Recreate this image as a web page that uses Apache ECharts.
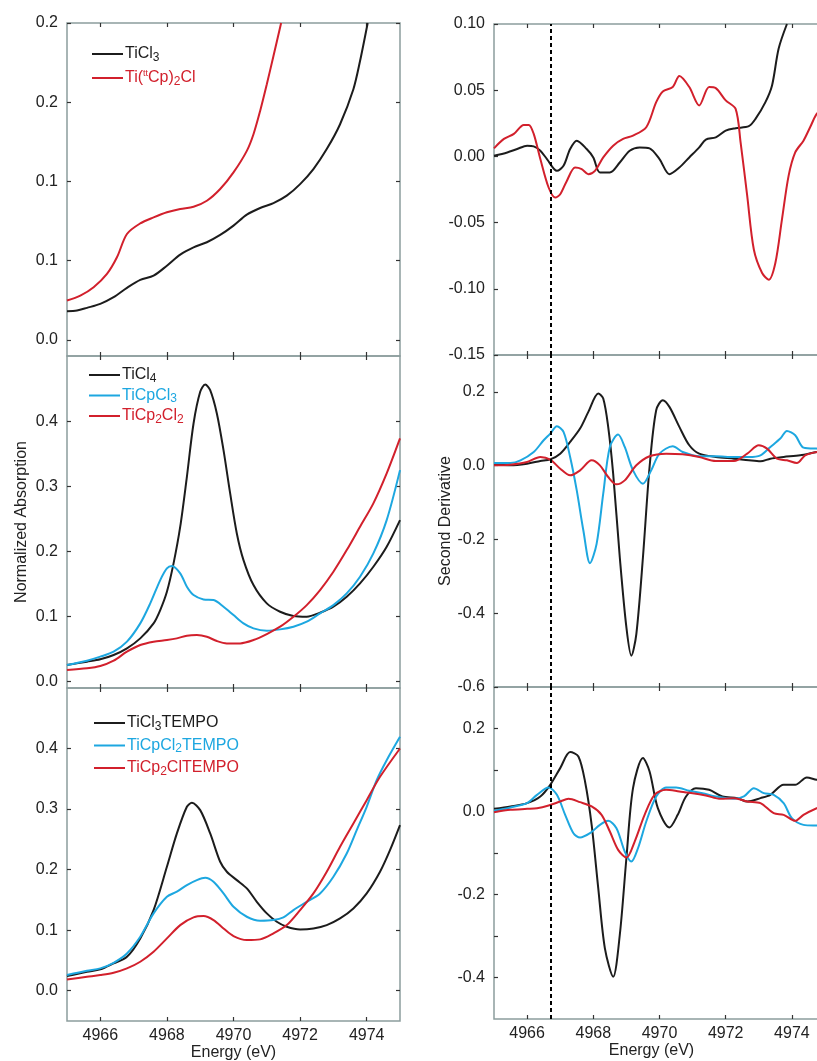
<!DOCTYPE html>
<html>
<head>
<meta charset="utf-8">
<script src="https://cdn.jsdelivr.net/npm/echarts@6/dist/echarts.min.js"></script>
<style>
  html, body { margin: 0; padding: 0; background: #fff; overflow: hidden; }
  #chart { width: 817px; height: 1061px; }
</style>
</head>
<body>
<div id="chart"></div>
<script>
// ---------------- DATA ----------------
const energyTicks = [4966, 4968, 4970, 4972, 4974];
const edgeLineEnergy = 4966.7;

// Panel 1 (left top) tick values and printed labels
const p1Ticks = [0, 0.05, 0.1, 0.15, 0.2];
const p1TickLabels = ['0.0', '0.1', '0.1', '0.2', '0.2'];
const p2Ticks = [0, 0.1, 0.2, 0.3, 0.4];
const p3Ticks = [0, 0.1, 0.2, 0.3, 0.4];
const r1Ticks = [-0.15, -0.1, -0.05, 0, 0.05, 0.1];
const r2Ticks = [-0.6, -0.4, -0.2, 0, 0.2];
const r3Ticks = [-0.4, -0.3, -0.2, -0.1, 0, 0.1, 0.2];
const r3LabelTicks = [-0.4, -0.2, 0, 0.2];

// Normalized absorption, panel 1
const TiCl3 = [[4965.0,0.0181],[4965.3,0.0185],[4965.6,0.0202],[4966.0,0.0227],[4966.4,0.0269],[4966.8,0.0328],[4967.2,0.0378],[4967.6,0.0405],[4968.0,0.0468],[4968.4,0.0538],[4968.8,0.0584],[4969.2,0.0616],[4969.6,0.0662],[4970.0,0.0721],[4970.4,0.079],[4970.8,0.0832],[4971.2,0.0863],[4971.6,0.091],[4972.0,0.0983],[4972.4,0.1078],[4972.8,0.1204],[4973.2,0.1361],[4973.6,0.1582],[4973.8,0.176],[4974.03,0.2]];
const TittCp2Cl = [[4965.0,0.0248],[4965.4,0.0279],[4965.8,0.0332],[4966.2,0.0416],[4966.5,0.0521],[4966.8,0.0668],[4967.2,0.0735],[4967.6,0.0773],[4968.0,0.0805],[4968.4,0.0826],[4968.8,0.084],[4969.2,0.0878],[4969.6,0.0952],[4970.0,0.1057],[4970.4,0.1193],[4970.6,0.1298],[4970.8,0.1445],[4971.0,0.1613],[4971.2,0.1792],[4971.43,0.2]];

// Panel 2
const TiCl4 = [[4965.0,0.0256],[4965.6,0.0307],[4966.0,0.0343],[4966.4,0.0409],[4966.8,0.0512],[4967.2,0.0665],[4967.6,0.0895],[4967.8,0.11],[4968.0,0.138],[4968.2,0.1816],[4968.4,0.2379],[4968.6,0.3146],[4968.8,0.3964],[4969.0,0.445],[4969.15,0.4563],[4969.3,0.4476],[4969.5,0.4118],[4969.7,0.3555],[4969.9,0.289],[4970.1,0.2276],[4970.3,0.1867],[4970.6,0.1483],[4971.0,0.1202],[4971.4,0.1074],[4971.8,0.1008],[4972.2,0.0997],[4972.6,0.1059],[4973.0,0.1151],[4973.4,0.1304],[4973.8,0.1509],[4974.2,0.1765],[4974.6,0.2072],[4975.0,0.2481]];
const TiCpCl3 = [[4965.0,0.0256],[4965.6,0.0322],[4966.0,0.0384],[4966.4,0.046],[4966.8,0.0614],[4967.2,0.0895],[4967.5,0.1202],[4967.8,0.156],[4968.0,0.1739],[4968.15,0.1775],[4968.4,0.1662],[4968.6,0.1458],[4968.8,0.133],[4969.1,0.1263],[4969.4,0.1253],[4969.7,0.1151],[4970.0,0.1023],[4970.3,0.0895],[4970.6,0.0818],[4971.0,0.0783],[4971.4,0.0803],[4971.8,0.0844],[4972.2,0.0921],[4972.6,0.1049],[4973.0,0.1176],[4973.4,0.1355],[4973.8,0.1611],[4974.2,0.1969],[4974.6,0.2481],[4975.0,0.3248]];
const TiCp2Cl2 = [[4965.0,0.0179],[4965.6,0.0205],[4966.0,0.024],[4966.4,0.0322],[4966.8,0.046],[4967.2,0.0563],[4967.6,0.0614],[4968.0,0.0639],[4968.3,0.0665],[4968.6,0.0706],[4968.9,0.0716],[4969.2,0.069],[4969.5,0.0624],[4969.8,0.0588],[4970.2,0.0588],[4970.6,0.0639],[4971.0,0.0731],[4971.4,0.0844],[4971.8,0.0997],[4972.2,0.1176],[4972.6,0.1407],[4973.0,0.1688],[4973.4,0.202],[4973.8,0.2379],[4974.2,0.2737],[4974.6,0.3197],[4975.0,0.3734]];

// Panel 3
const TiCl3TEMPO = [[4965.0,0.0242],[4965.6,0.0314],[4966.0,0.0352],[4966.4,0.0451],[4966.8,0.0561],[4967.2,0.0864],[4967.6,0.1332],[4968.0,0.2047],[4968.3,0.2598],[4968.6,0.3038],[4968.75,0.3104],[4969.0,0.2983],[4969.3,0.2598],[4969.6,0.213],[4969.8,0.1965],[4970.1,0.1827],[4970.4,0.169],[4970.7,0.1469],[4971.0,0.1277],[4971.3,0.1139],[4971.6,0.1057],[4972.0,0.1013],[4972.4,0.1029],[4972.8,0.1084],[4973.2,0.1194],[4973.6,0.1359],[4974.0,0.1607],[4974.4,0.1965],[4974.7,0.2322],[4975.0,0.2735]];
const TiCpCl2TEMPO = [[4965.0,0.0259],[4965.6,0.033],[4966.0,0.0369],[4966.4,0.0462],[4966.8,0.0616],[4967.2,0.0892],[4967.6,0.1277],[4968.0,0.1552],[4968.3,0.1635],[4968.6,0.1745],[4968.9,0.1827],[4969.15,0.1866],[4969.4,0.18],[4969.7,0.1607],[4970.0,0.1387],[4970.4,0.1222],[4970.8,0.1156],[4971.2,0.1167],[4971.5,0.1211],[4971.8,0.1332],[4972.2,0.1469],[4972.6,0.1607],[4973.0,0.1882],[4973.4,0.2267],[4973.7,0.2653],[4974.0,0.3038],[4974.3,0.3478],[4974.6,0.3808],[4975.0,0.4194]];
const TiCp2ClTEMPO = [[4965.0,0.0187],[4965.6,0.0231],[4966.0,0.0259],[4966.4,0.0297],[4966.8,0.0369],[4967.2,0.0479],[4967.6,0.0644],[4968.0,0.0864],[4968.4,0.1084],[4968.8,0.1211],[4969.1,0.1233],[4969.4,0.1167],[4969.7,0.1029],[4970.0,0.0903],[4970.4,0.0837],[4970.8,0.0848],[4971.2,0.0947],[4971.6,0.1084],[4972.0,0.1332],[4972.4,0.1607],[4972.8,0.1965],[4973.2,0.2378],[4973.6,0.2763],[4974.0,0.3148],[4974.4,0.3533],[4975.0,0.4001]];

// Second derivative, panel R1
const dTiCl3 = [[4965.0,0.0005],[4965.4,0.003],[4965.7,0.0056],[4966.0,0.0081],[4966.2,0.0076],[4966.4,0.0043],[4966.6,-0.002],[4966.9,-0.0109],[4967.1,-0.0071],[4967.3,0.0056],[4967.5,0.0119],[4967.8,0.0056],[4968.0,-0.0008],[4968.2,-0.0121],[4968.5,-0.0121],[4968.8,-0.0046],[4969.1,0.0043],[4969.4,0.0068],[4969.7,0.0061],[4970.0,-0.002],[4970.3,-0.0134],[4970.6,-0.0084],[4970.9,-0.0008],[4971.2,0.0068],[4971.4,0.0127],[4971.7,0.0144],[4972.0,0.0195],[4972.3,0.0213],[4972.7,0.0228],[4972.9,0.0283],[4973.2,0.041],[4973.4,0.0536],[4973.6,0.0815],[4973.85,0.1]];
const dTittCp2Cl = [[4965.0,0.0061],[4965.3,0.0132],[4965.6,0.017],[4965.9,0.0238],[4966.05,0.0238],[4966.2,0.017],[4966.4,-0.002],[4966.65,-0.0235],[4966.85,-0.0311],[4967.0,-0.0286],[4967.2,-0.0185],[4967.45,-0.0084],[4967.65,-0.0096],[4967.85,-0.0134],[4968.05,-0.0109],[4968.3,-0.0008],[4968.6,0.0081],[4968.9,0.0132],[4969.2,0.0157],[4969.6,0.022],[4969.9,0.041],[4970.1,0.0491],[4970.4,0.0524],[4970.6,0.0607],[4970.9,0.0524],[4971.2,0.0385],[4971.5,0.0524],[4971.7,0.0516],[4972.0,0.0423],[4972.3,0.0359],[4972.45,0.0106],[4972.65,-0.0299],[4972.85,-0.0703],[4973.1,-0.0881],[4973.3,-0.0931],[4973.5,-0.0805],[4973.7,-0.0476],[4973.9,-0.0147],[4974.1,0.003],[4974.35,0.0119],[4974.55,0.022],[4974.75,0.0321],[4975.0,0.038]];

// Panel R2
const dTiCl4 = [[4965.0,0.0036],[4965.5,0.0009],[4966.0,0.0054],[4966.4,0.0127],[4966.7,0.0172],[4967.0,0.0326],[4967.3,0.0643],[4967.6,0.1005],[4967.85,0.1458],[4968.15,0.1957],[4968.3,0.1821],[4968.45,0.1051],[4968.6,-0.0217],[4968.8,-0.2482],[4969.0,-0.4384],[4969.15,-0.5154],[4969.3,-0.4565],[4969.5,-0.2482],[4969.7,-0.0036],[4969.9,0.1504],[4970.1,0.1775],[4970.3,0.1594],[4970.6,0.1051],[4970.9,0.0553],[4971.2,0.0326],[4971.7,0.0236],[4972.25,0.019],[4972.7,0.0145],[4973.05,0.0118],[4973.35,0.019],[4973.75,0.0236],[4974.25,0.0281],[4974.75,0.0371],[4975.0,0.04]];
const dTiCpCl3 = [[4965.0,0.0072],[4965.5,0.0072],[4965.8,0.0145],[4966.2,0.0371],[4966.5,0.0688],[4966.7,0.087],[4966.9,0.1069],[4967.1,0.0915],[4967.3,0.0236],[4967.5,-0.067],[4967.7,-0.1757],[4967.9,-0.2645],[4968.1,-0.212],[4968.3,-0.0761],[4968.5,0.0507],[4968.75,0.0842],[4968.95,0.0507],[4969.2,-0.0127],[4969.5,-0.0489],[4969.75,-0.0127],[4970.0,0.0326],[4970.4,0.0525],[4970.7,0.0371],[4971.2,0.0254],[4971.7,0.0254],[4972.25,0.0236],[4972.7,0.0236],[4973.05,0.0281],[4973.35,0.0507],[4973.65,0.0734],[4973.85,0.0942],[4974.1,0.0824],[4974.35,0.0489],[4974.75,0.0462],[4975.0,0.046]];
const dTiCp2Cl2 = [[4965.0,0.0009],[4965.5,0.0027],[4966.0,0.01],[4966.4,0.0236],[4966.7,0.0163],[4967.0,-0.0082],[4967.3,-0.0263],[4967.6,-0.0127],[4967.95,0.0145],[4968.2,0.0009],[4968.45,-0.0308],[4968.7,-0.0507],[4968.95,-0.0399],[4969.3,0.0009],[4969.7,0.0254],[4970.2,0.0326],[4970.7,0.0308],[4971.2,0.0236],[4971.7,0.0127],[4972.25,0.0127],[4972.65,0.0326],[4973.0,0.0553],[4973.25,0.0462],[4973.55,0.019],[4973.85,0.0145],[4974.15,0.0072],[4974.4,0.0281],[4974.75,0.0371],[4975.0,0.04]];

// Panel R3
const dTiCl3TEMPO = [[4965.0,0.0064],[4965.5,0.0121],[4966.0,0.0201],[4966.4,0.0362],[4966.7,0.0643],[4967.0,0.1045],[4967.3,0.1431],[4967.55,0.1327],[4967.75,0.0724],[4967.95,-0.0322],[4968.15,-0.185],[4968.35,-0.3297],[4968.6,-0.3981],[4968.8,-0.2976],[4969.0,-0.1126],[4969.2,0.0563],[4969.5,0.1287],[4969.7,0.0965],[4969.95,0.008],[4970.3,-0.0386],[4970.55,-0.008],[4970.8,0.0362],[4971.1,0.0563],[4971.5,0.0523],[4971.9,0.0362],[4972.35,0.0322],[4972.65,0.0241],[4973.05,0.0322],[4973.35,0.0402],[4973.75,0.0643],[4974.1,0.0643],[4974.45,0.082],[4974.75,0.0764],[4975.0,0.075]];
const dTiCpCl2TEMPO = [[4965.0,0.0016],[4965.5,0.0097],[4966.0,0.0201],[4966.3,0.0402],[4966.65,0.0579],[4966.9,0.0402],[4967.15,-0.008],[4967.4,-0.0523],[4967.6,-0.0627],[4967.9,-0.0523],[4968.2,-0.0322],[4968.45,-0.0225],[4968.7,-0.0402],[4968.95,-0.0965],[4969.15,-0.1206],[4969.35,-0.0885],[4969.6,-0.0241],[4969.9,0.0362],[4970.2,0.0579],[4970.5,0.0579],[4970.9,0.0499],[4971.3,0.0442],[4971.7,0.0362],[4972.25,0.0306],[4972.55,0.0362],[4972.85,0.0563],[4973.15,0.0442],[4973.45,0.0402],[4973.75,0.0201],[4974.0,-0.0161],[4974.35,-0.0322],[4974.75,-0.0338],[4975.0,-0.034]];
const dTiCp2ClTEMPO = [[4965.0,-0.0016],[4965.5,0.004],[4966.0,0.0064],[4966.3,0.008],[4966.65,0.0145],[4967.0,0.0241],[4967.25,0.0306],[4967.6,0.0225],[4967.95,0.0121],[4968.25,-0.008],[4968.5,-0.0483],[4968.75,-0.0925],[4969.0,-0.111],[4969.25,-0.0724],[4969.55,-0.008],[4969.85,0.0402],[4970.2,0.0523],[4970.6,0.0483],[4971.0,0.0442],[4971.4,0.0386],[4971.85,0.0306],[4972.25,0.0322],[4972.65,0.0241],[4973.05,0.0201],[4973.45,-0.004],[4973.75,-0.008],[4974.1,-0.0225],[4974.35,-0.008],[4974.75,0.008],[4975.0,0.015]];

// Legend labels with sub/superscripts (rich text)
const legendRich = {
  'TiCl3': '{k|TiCl}{ks|3}',
  'Ti(ttCp)2Cl': '{r|Ti(}{rp|tt}{r|Cp)}{rs|2}{r|Cl}',
  'TiCl4': '{k|TiCl}{ks|4}',
  'TiCpCl3': '{c|TiCpCl}{cs|3}',
  'TiCp2Cl2': '{r|TiCp}{rs|2}{r|Cl}{rs|2}',
  'TiCl3TEMPO': '{k|TiCl}{ks|3}{k|TEMPO}',
  'TiCpCl2TEMPO': '{c|TiCpCl}{cs|2}{c|TEMPO}',
  'TiCp2ClTEMPO': '{r|TiCp}{rs|2}{r|ClTEMPO}'
};

// ---------------- STYLE ----------------
const BLACK = '#1c1c1c', CYAN = '#1da7e0', RED = '#d2202c';
const FONT = 'Liberation Sans, Arial, sans-serif';
const FRAME = '#8c9d9d';
const TXT = '#222';

const grids = [
  { left: 67, top: 23, width: 333, height: 333 },
  { left: 67, top: 356, width: 333, height: 332 },
  { left: 67, top: 688, width: 333, height: 333 },
  { left: 494, top: 24, width: 331, height: 331 },
  { left: 494, top: 355, width: 331, height: 332 },
  { left: 494, top: 687, width: 331, height: 332 }
].map(g => Object.assign({ show: true, borderColor: FRAME, borderWidth: 1.5, backgroundColor: 'transparent', outerBoundsMode: 'none', containLabel: false }, g));

const yRanges = [[-0.0102, 0.2], [-0.0097, 0.5], [-0.05, 0.5], [-0.15, 0.1], [-0.6, 0.3], [-0.5, 0.3]];
const yTickSets = [p1Ticks, p2Ticks, p3Ticks, r1Ticks, r2Ticks, r3Ticks];
const yLabelSets = [p1Ticks, p2Ticks, p3Ticks, r1Ticks, r2Ticks, r3LabelTicks];
const yFormatters = [
  v => p1TickLabels[p1Ticks.findIndex(t => Math.abs(t - v) < 1e-9)],
  v => v.toFixed(1),
  v => v.toFixed(1),
  v => v.toFixed(2),
  v => v.toFixed(1),
  v => v.toFixed(1)
];

const tickStyle = { show: true, inside: true, length: 4, lineStyle: { color: '#333', width: 1.2 } };
const labelFont = { color: TXT, fontFamily: FONT, fontSize: 16 };
const noLine = { show: false, onZero: false };

const xAxis = [], yAxis = [];
for (let g = 0; g < 6; g++) {
  const bottomRow = (g === 2 || g === 5);
  xAxis.push({
    type: 'value', gridIndex: g, min: 4965, max: 4975, position: 'bottom',
    axisLine: noLine, splitLine: { show: false },
    axisTick: Object.assign({ customValues: energyTicks }, tickStyle),
    axisLabel: Object.assign({ show: bottomRow, customValues: energyTicks, margin: 7, formatter: v => String(v) }, labelFont),
    name: bottomRow ? 'Energy (eV)' : '', nameLocation: 'middle', nameGap: 23,
    nameTextStyle: Object.assign({ padding: g === 5 ? [0, 16, 0, 0] : 0 }, labelFont)
  });
  yAxis.push({
    type: 'value', gridIndex: g, min: yRanges[g][0], max: yRanges[g][1], position: 'left',
    axisLine: noLine, splitLine: { show: false },
    axisTick: Object.assign({ customValues: yTickSets[g] }, tickStyle),
    axisLabel: Object.assign({ customValues: yLabelSets[g], margin: 9, formatter: yFormatters[g] }, labelFont),
    name: g === 1 ? 'Normalized Absorption' : (g === 4 ? 'Second Derivative' : ''),
    nameLocation: 'middle', nameGap: 37,
    nameTextStyle: labelFont
  });
}
for (let g = 0; g < 6; g++) {
  xAxis.push({
    type: 'value', gridIndex: g, min: 4965, max: 4975, position: 'top',
    axisLine: noLine, splitLine: { show: false }, axisLabel: { show: false },
    axisTick: Object.assign({ customValues: energyTicks }, tickStyle)
  });
  yAxis.push({
    type: 'value', gridIndex: g, min: yRanges[g][0], max: yRanges[g][1], position: 'right',
    axisLine: noLine, splitLine: { show: false }, axisLabel: { show: false },
    axisTick: Object.assign({ customValues: yTickSets[g] }, tickStyle)
  });
}

function line(name, data, color, g, extra) {
  return Object.assign({
    type: 'line', name, data, xAxisIndex: g, yAxisIndex: g,
    showSymbol: false, symbol: 'none', smooth: 0.3, clip: true,
    lineStyle: { color, width: 2 }, itemStyle: { color }, z: 3
  }, extra || {});
}
const vline = {
  markLine: {
    silent: true, symbol: 'none', label: { show: false },
    lineStyle: { color: '#000', type: [4, 3], width: 2 },
    data: [{ xAxis: edgeLineEnergy }]
  }
};

const series = [
  line('TiCl3', TiCl3, BLACK, 0),
  line('Ti(ttCp)2Cl', TittCp2Cl, RED, 0),
  line('TiCl4', TiCl4, BLACK, 1),
  line('TiCpCl3', TiCpCl3, CYAN, 1),
  line('TiCp2Cl2', TiCp2Cl2, RED, 1),
  line('TiCl3TEMPO', TiCl3TEMPO, BLACK, 2),
  line('TiCpCl2TEMPO', TiCpCl2TEMPO, CYAN, 2),
  line('TiCp2ClTEMPO', TiCp2ClTEMPO, RED, 2),
  line('d TiCl3', dTiCl3, BLACK, 3, vline),
  line('d Ti(ttCp)2Cl', dTittCp2Cl, RED, 3),
  line('d TiCl4', dTiCl4, BLACK, 4, vline),
  line('d TiCpCl3', dTiCpCl3, CYAN, 4),
  line('d TiCp2Cl2', dTiCp2Cl2, RED, 4),
  line('d TiCl3TEMPO', dTiCl3TEMPO, BLACK, 5, vline),
  line('d TiCpCl2TEMPO', dTiCpCl2TEMPO, CYAN, 5),
  line('d TiCp2ClTEMPO', dTiCp2ClTEMPO, RED, 5)
];

const rich = {
  k: { color: BLACK, fontSize: 16, fontFamily: FONT },
  ks: { color: BLACK, fontSize: 12, fontFamily: FONT, padding: [7, 0, 0, 0] },
  c: { color: CYAN, fontSize: 16, fontFamily: FONT },
  cs: { color: CYAN, fontSize: 12, fontFamily: FONT, padding: [7, 0, 0, 0] },
  r: { color: RED, fontSize: 16, fontFamily: FONT },
  rs: { color: RED, fontSize: 12, fontFamily: FONT, padding: [7, 0, 0, 0] },
  rp: { color: RED, fontSize: 9, fontFamily: FONT, padding: [0, 0, 8, 0] }
};
function legend(names, left, top, gap) {
  return {
    data: names, left, top, orient: 'vertical', itemGap: gap,
    icon: 'rect', itemWidth: 31, itemHeight: 2, selectedMode: false,
    formatter: n => legendRich[n],
    textStyle: { rich, padding: [0, 0, 0, -3] }
  };
}

const chart = echarts.init(document.getElementById('chart'), null, { renderer: 'canvas' });
chart.setOption({
  animation: false,
  backgroundColor: '#fff',
  grid: grids,
  xAxis, yAxis,
  legend: [
    legend(['TiCl3', 'Ti(ttCp)2Cl'], 87, 41, 6),
    legend(['TiCl4', 'TiCpCl3', 'TiCp2Cl2'], 84, 362, 3),
    legend(['TiCl3TEMPO', 'TiCpCl2TEMPO', 'TiCp2ClTEMPO'], 89, 710, 5)
  ],
  series
});
</script>
</body>
</html>
